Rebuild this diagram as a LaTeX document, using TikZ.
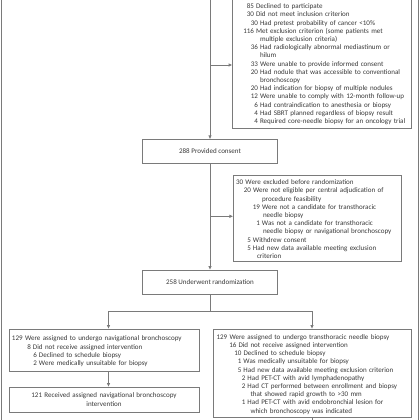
\documentclass[tikz,border=0pt]{standalone}
\usepackage{fontspec}
\setmainfont{Carlito}
\usetikzlibrary{arrows.meta}
\definecolor{ln}{HTML}{7A7A7A}
\definecolor{tx}{HTML}{383838}
\newcommand\Lv[3]{\mbox{\makebox[\dimexpr#1pt-2pt\relax][r]{#2}\hspace{2pt}#3\strut}}
\newcommand\Lk[2]{\hspace*{#1pt}\mbox{#2\strut}}
\newcommand\Lz[1]{\mbox{\rule{0pt}{8.9pt}#1\strut}}
\begin{document}
\begin{tikzpicture}[x=1pt,y=-1pt,
  txt/.style={font=\fontsize{7.05}{8.2}\selectfont, text=tx},
  boxs/.style={txt, draw=ln, line width=0.8pt, inner ysep=0pt, align=left},
  cbox/.style={txt, draw=ln, line width=0.8pt, inner sep=0pt, align=center, minimum width=134.6pt, minimum height=24pt},
  arr/.style={draw=ln, line width=0.8pt, -{Triangle[length=3.5pt,width=3pt]}},
  con/.style={draw=ln, line width=0.8pt},
  frame/.style={draw=ln, line width=0.9pt}]
\useasboundingbox (0,0) rectangle (420,420);
\draw[frame] (1,-5) -- (1,425);
\draw[frame] (418.5,-5) -- (418.5,425);

\node[boxs, inner xsep=4.5pt, text width=169.5pt, minimum height=139.5pt] (excl1) at (321.75,58.75) {%
\Lz{231 Were excluded}\\
\Lv{19}{85}{Declined to participate}\\
\Lv{19}{30}{Did not meet inclusion criterion}\\
\Lv{23}{30}{Had pretest probability of cancer <10\%}\\
\Lv{19}{116}{Met exclusion criterion (some patients met}\\
\Lk{23}{multiple exclusion criteria)}\\
\Lv{23}{36}{Had radiologically abnormal mediastinum or}\\
\Lk{23}{hilum}\\
\Lv{23}{33}{Were unable to provide informed consent}\\
\Lv{23}{20}{Had nodule that was accessible to conventional}\\
\Lk{23}{bronchoscopy}\\
\Lv{23}{20}{Had indication for biopsy of multiple nodules}\\
\Lv{23}{12}{Were unable to comply with 12-month follow-up}\\
\Lv{23}{6}{Had contraindication to anesthesia or biopsy}\\
\Lv{23}{4}{Had SBRT planned regardless of biopsy result}\\
\Lv{23}{4}{Required core-needle biopsy for an oncology trial}};

\node[cbox] (consent) at (210,151.3) {288 Provided consent};

\node[boxs, inner xsep=2.7pt, text width=162.3pt, minimum height=84.7pt] (excl2) at (317.15,218.35) {%
\Lz{30 Were excluded before randomization}\\
\Lv{17}{20}{Were not eligible per central adjudication of}\\
\Lk{26}{procedure feasibility}\\
\Lv{26}{19}{Were not a candidate for transthoracic}\\
\Lk{27}{needle biopsy}\\
\Lv{26}{1}{Was not a candidate for transthoracic}\\
\Lk{27}{needle biopsy or navigational bronchoscopy}\\
\Lv{17}{5}{Withdrew consent}\\
\Lv{17}{5}{Had new data available meeting exclusion}\\
\Lk{21}{criterion}};

\node[cbox] (rand) at (210,282) {258 Underwent randomization};

\node[boxs, inner xsep=3pt, text width=184pt, minimum height=42pt] (nav) at (104,350) {%
\Lz{129 Were assigned to undergo navigational bronchoscopy}\\
\Lv{21}{8}{Did not receive assigned intervention}\\
\Lv{27}{6}{Declined to schedule biopsy}\\
\Lv{27}{2}{Were medically unsuitable for biopsy}};

\node[txt, draw=ln, line width=0.8pt, inner xsep=3pt, inner ysep=0pt, align=center, text width=184pt, minimum height=25pt] (navrec) at (104,399.5) {%
121 Received assigned navigational bronchoscopy\\intervention};

\node[boxs, inner xsep=3.5pt, text width=191pt, minimum height=88pt] (ttnb) at (312,373) {%
\Lz{129 Were assigned to undergo transthoracic needle biopsy}\\
\Lv{22}{16}{Did not receive assigned intervention}\\
\Lv{27}{10}{Declined to schedule biopsy}\\
\Lv{27}{1}{Was medically unsuitable for biopsy}\\
\Lv{27}{5}{Had new data available meeting exclusion criterion}\\
\Lv{31}{2}{Had PET-CT with avid lymphadenopathy}\\
\Lv{31}{2}{Had CT performed between enrollment and biopsy}\\
\Lk{34}{that showed rapid growth to >30 mm}\\
\Lv{31}{1}{Had PET-CT with avid endobronchial lesion for}\\
\Lk{34}{which bronchoscopy was indicated}};

\coordinate (topin) at (210,-5);
\coordinate (brA) at (210,65);
\coordinate (brB) at (210,216.3);
\coordinate (split) at (210,311);
\coordinate (sL) at (108.5,311);
\coordinate (sR) at (312,311);
\coordinate (botout) at (312,425);

\draw[arr] (topin) -- (consent.north);
\draw[arr] (brA) -- (brA -| excl1.west);
\draw[arr] (consent.south) -- (rand.north);
\draw[arr] (brB) -- (brB -| excl2.west);
\draw[con] (rand.south) -- (split);
\draw[con] (sL) -- (sR);
\draw[arr] (sL) -- (sL |- nav.north);
\draw[arr] (sR) -- (ttnb.north);
\draw[arr] (sL |- nav.south) -- (sL |- navrec.north);
\draw[con] (ttnb.south) -- (botout);
\end{tikzpicture}
\end{document}
